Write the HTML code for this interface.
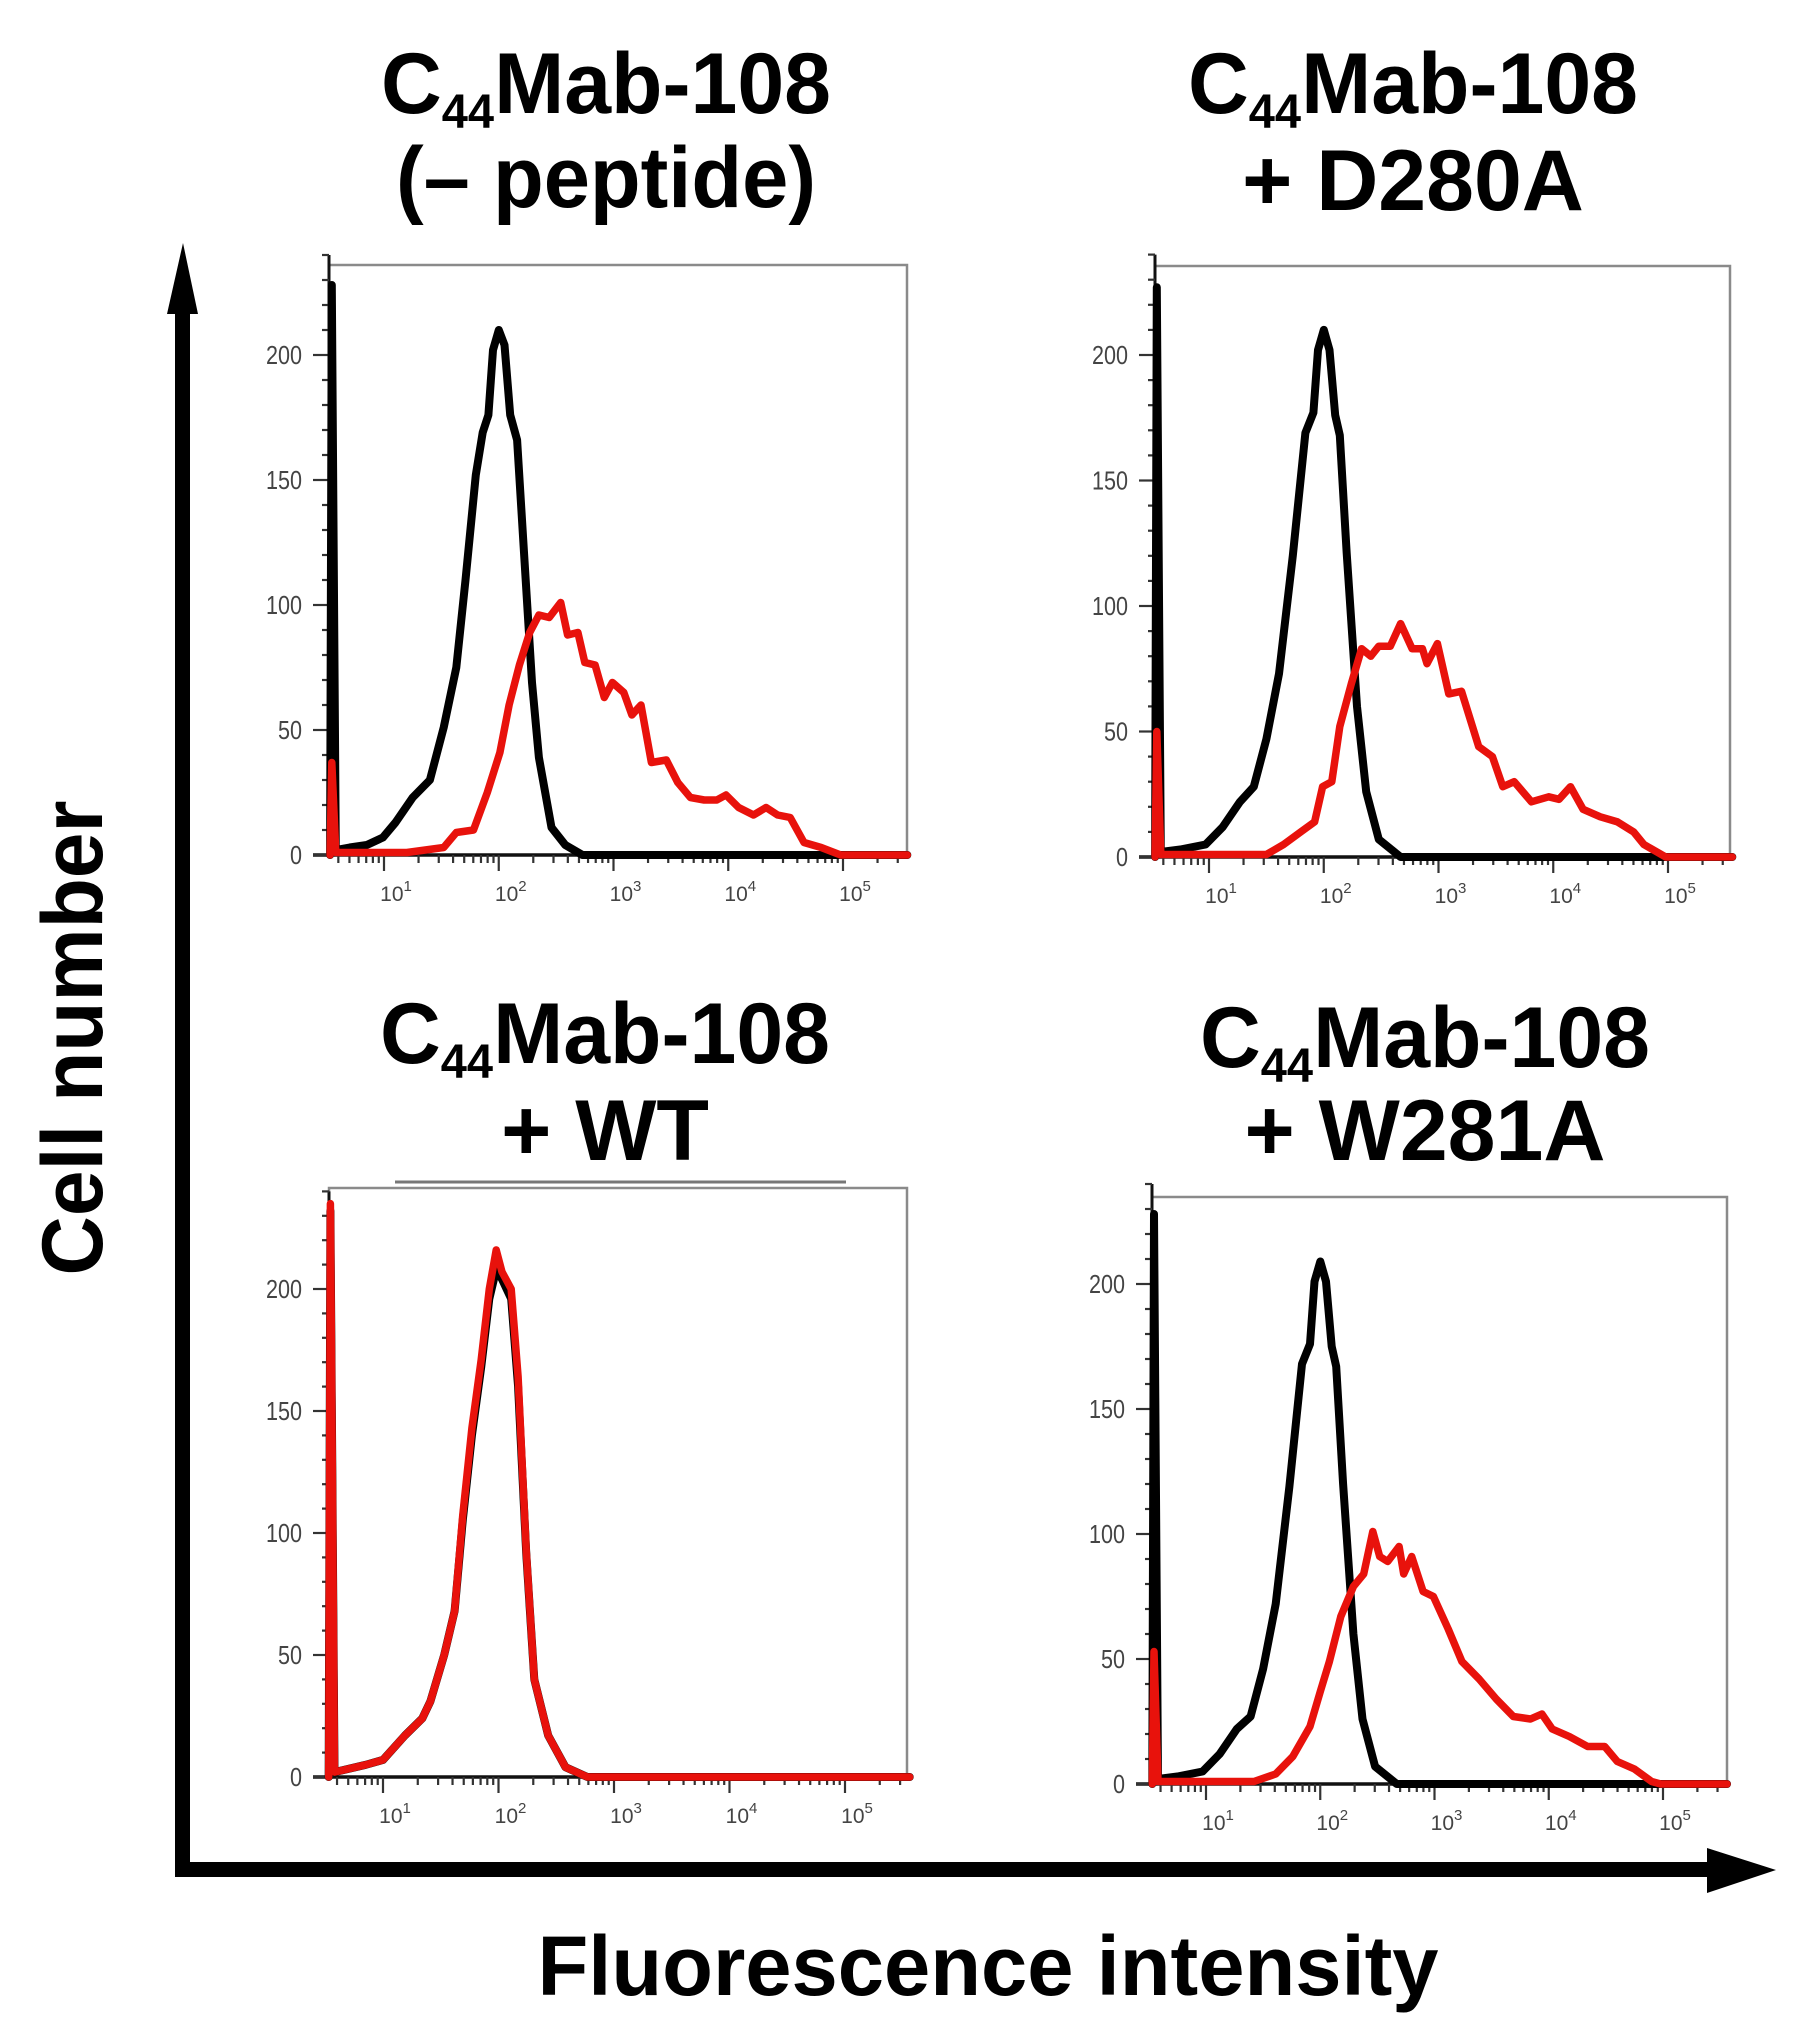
<!DOCTYPE html>
<html><head><meta charset="utf-8">
<style>
html,body{margin:0;padding:0;background:#fff;}
svg{display:block;}
text{font-family:"Liberation Sans",Arial,sans-serif;}
</style></head>
<body>
<svg id="fig" width="1811" height="2043" viewBox="0 0 1811 2043" xmlns="http://www.w3.org/2000/svg">
  <rect x="0" y="0" width="1811" height="2043" fill="#fff"/>
  <g>
    <rect x="175" y="305" width="15" height="1572" fill="#000"/>
    <polygon points="183,243 167,314 198,314" fill="#000"/>
  </g>
  <g>
    <rect x="175" y="1862" width="1540" height="15" fill="#000"/>
    <polygon points="1776,1870 1707,1848 1707,1893" fill="#000"/>
  </g>
  <text transform="translate(102,1038) rotate(-90)" text-anchor="middle" font-size="86" font-weight="bold" textLength="475" lengthAdjust="spacingAndGlyphs">Cell number</text>
  <text x="988" y="1995" text-anchor="middle" font-size="84" font-weight="bold" textLength="901" lengthAdjust="spacingAndGlyphs">Fluorescence intensity</text>

  <g font-weight="bold" text-anchor="middle">
    <text x="606" y="113" font-size="86" textLength="450" lengthAdjust="spacingAndGlyphs">C<tspan font-size="48" dy="15">44</tspan><tspan dy="-15">Mab-108</tspan></text>
    <text x="606" y="207" font-size="86" textLength="420" lengthAdjust="spacingAndGlyphs">(– peptide)</text>
  </g>
  <g font-weight="bold" text-anchor="middle">
    <text x="1413" y="113" font-size="86" textLength="450" lengthAdjust="spacingAndGlyphs">C<tspan font-size="48" dy="15">44</tspan><tspan dy="-15">Mab-108</tspan></text>
    <text x="1413" y="210" font-size="86">+ D280A</text>
  </g>
  <g font-weight="bold" text-anchor="middle">
    <text x="605" y="1063" font-size="86" textLength="450" lengthAdjust="spacingAndGlyphs">C<tspan font-size="48" dy="15">44</tspan><tspan dy="-15">Mab-108</tspan></text>
    <text x="605" y="1160" font-size="86">+ WT</text>
  </g>
  <g font-weight="bold" text-anchor="middle">
    <text x="1425" y="1067" font-size="86" textLength="450" lengthAdjust="spacingAndGlyphs">C<tspan font-size="48" dy="15">44</tspan><tspan dy="-15">Mab-108</tspan></text>
    <text x="1425" y="1160" font-size="86">+ W281A</text>
  </g>
  <line x1="395" y1="1182" x2="846" y2="1182" stroke="#777" stroke-width="3"/>
  <g id="panels"></g>
</svg>
<script>
// Data: x in log10 decades, y in cell counts
const yTickValues = [0, 50, 100, 150, 200];
const xDecades = [1, 2, 3, 4, 5];

const tlBlackX = [0.53,0.545,0.58,0.7,0.85,0.99,1.1,1.25,1.4,1.52,1.63,1.71,1.8,1.86,1.91,1.95,2.0,2.05,2.1,2.16,2.22,2.29,2.35,2.46,2.58,2.73,5.56];
const tlBlackY = [0,228,2,3,4,7,13,23,30,51,75,110,152,169,176,202,210,204,176,166,121,69,39,11,4,0,0];
const tlRedX = [0.53,0.545,0.58,1.2,1.52,1.63,1.78,1.9,2.01,2.09,2.18,2.27,2.35,2.44,2.54,2.6,2.69,2.75,2.84,2.92,2.99,3.09,3.16,3.24,3.33,3.46,3.56,3.67,3.79,3.9,3.98,4.09,4.22,4.33,4.43,4.54,4.66,4.81,4.98,5.56];
const tlRedY = [0,37,1,1,3,9,10,25,41,60,76,89,96,95,101,88,89,77,76,63,69,65,56,60,37,38,29,23,22,22,24,19,16,19,16,15,5,3,0,0];

const trBlackX = [0.53,0.545,0.58,0.75,0.97,1.12,1.27,1.39,1.5,1.61,1.73,1.84,1.91,1.95,2.0,2.05,2.1,2.14,2.2,2.29,2.37,2.48,2.67,5.56];
const trBlackY = [0,227,2,3,5,12,22,28,47,73,120,169,177,202,210,202,176,168,121,60,26,7,0,0];
const trRedX = [0.53,0.545,0.58,1.5,1.65,1.8,1.92,1.99,2.07,2.14,2.24,2.33,2.41,2.48,2.58,2.67,2.77,2.86,2.9,2.99,3.09,3.2,3.35,3.47,3.56,3.66,3.81,3.96,4.05,4.15,4.26,4.41,4.56,4.7,4.79,4.98,5.56];
const trRedY = [0,50,1,1,5,10,14,28,30,52,69,83,80,84,84,93,83,83,77,85,65,66,44,40,28,30,22,24,23,28,19,16,14,10,5,0,0];

const blBlackX = [0.53,0.545,0.58,0.85,1.0,1.19,1.34,1.41,1.53,1.62,1.69,1.77,1.85,1.92,1.98,2.03,2.11,2.17,2.24,2.31,2.43,2.58,2.77,5.56];
const blBlackY = [0,232,2,5,7,17,24,31,50,68,105,140,168,196,208,204,196,160,92,40,17,4,0,0];
const blRedX = [0.53,0.545,0.58,0.85,1.0,1.19,1.34,1.41,1.53,1.62,1.69,1.77,1.85,1.92,1.98,2.03,2.11,2.17,2.24,2.31,2.43,2.58,2.77,5.56];
const blRedY = [0,235,2,5,7,17,24,31,50,68,107,143,171,200,216,207,200,164,93,40,17,4,0,0];

const brBlackX = [0.53,0.545,0.58,0.75,0.97,1.12,1.27,1.39,1.5,1.61,1.73,1.84,1.91,1.95,2.0,2.05,2.1,2.14,2.2,2.29,2.37,2.48,2.67,5.56];
const brBlackY = [0,228,2,3,5,12,22,27,46,72,119,168,176,201,209,201,175,167,120,60,26,7,0,0];
const brRedX = [0.53,0.545,0.58,1.15,1.42,1.61,1.76,1.91,2.0,2.08,2.18,2.29,2.38,2.46,2.52,2.59,2.69,2.73,2.8,2.9,2.99,3.12,3.24,3.39,3.54,3.69,3.84,3.94,4.03,4.18,4.34,4.49,4.6,4.75,4.9,4.98,5.56];
const brRedY = [0,53,1,1,1,4,11,23,37,49,67,79,84,101,91,89,95,84,91,77,75,62,49,42,34,27,26,28,22,19,15,15,9,6,1,0,0];

const panels = [
  {name:'top-left', left:329, top:265, right:907, base:855, y200:355, d1:384, d5:843, bx:tlBlackX, by:tlBlackY, rx:tlRedX, ry:tlRedY},
  {name:'top-right', left:1155, top:266, right:1730, base:857, y200:355, d1:1209, d5:1668, bx:trBlackX, by:trBlackY, rx:trRedX, ry:trRedY},
  {name:'bottom-left', left:329, top:1188, right:907, base:1777, y200:1289, d1:383, d5:845, bx:blBlackX, by:blBlackY, rx:blRedX, ry:blRedY},
  {name:'bottom-right', left:1152, top:1197, right:1727, base:1784, y200:1284, d1:1206, d5:1663, bx:brBlackX, by:brBlackY, rx:brRedX, ry:brRedY}
];

const NS = 'http://www.w3.org/2000/svg';
const root = document.getElementById('panels');
function mk(tag, attrs, parent){
  const e = document.createElementNS(NS, tag);
  for (const k in attrs) e.setAttribute(k, attrs[k]);
  parent.appendChild(e);
  return e;
}

panels.forEach(p => {
  const xs = d => p.d1 + (d - 1) * (p.d5 - p.d1) / 4;
  const ys = c => p.base - c * (p.base - p.y200) / 200;
  const g = mk('g', {}, root);
  
  

  const box = mk('rect', {x:p.left, y:p.top, width:p.right-p.left, height:p.base-p.top, fill:'none', stroke:'#8a8a8a', 'stroke-width':2.5}, g);
  
  

  const yaxis = mk('line', {x1:p.left, y1:ys(240), x2:p.left, y2:p.base+2, stroke:'#111', 'stroke-width':3}, g);
  
  
  const xaxis = mk('line', {x1:p.left-16, y1:p.base, x2:p.right, y2:p.base, stroke:'#111', 'stroke-width':3.5}, g);
  
  

  for (let v = 0; v <= 240; v += 10) {
    const major = v % 50 === 0;
    const t = mk('line', {x1:p.left-(major?16:7), y1:ys(v), x2:p.left, y2:ys(v), stroke:'#333', 'stroke-width':2.2}, g);
    
    
  }
  yTickValues.forEach(v => {
    const t = mk('text', {x:p.left-27, y:ys(v)+9, 'text-anchor':'end', 'font-size':26, fill:'#444', textLength: String(v).length*12, lengthAdjust:'spacingAndGlyphs'}, g);
    t.textContent = String(v);
    
    
  });

  for (let dec = 0; dec <= 5; dec++) {
    for (let k = 1; k <= 9; k++) {
      const d = dec + Math.log10(k);
      const x = xs(d);
      if (x < p.left + 3 || x > p.right) continue;
      const major = k === 1;
      const t = mk('line', {x1:x, y1:p.base, x2:x, y2:p.base+(major?16:8), stroke:'#333', 'stroke-width':2.2}, g);
      
      
    }
  }
  xDecades.forEach(d => {
    const t = mk('text', {x:xs(d)+12, y:p.base+46, 'text-anchor':'middle', 'font-size':21, fill:'#444'}, g);
    
    
    t.appendChild(document.createTextNode('10'));
    const s = mk('tspan', {'font-size':15, dy:-10}, t);
    s.textContent = String(d);
  });

  const ptsB = p.bx.map((d,i) => xs(d).toFixed(1)+','+ys(p.by[i]).toFixed(1)).join(' ');
  const lb = mk('polyline', {points:ptsB, fill:'none', stroke:'#000', 'stroke-width':8, 'stroke-linejoin':'round', 'stroke-linecap':'round'}, g);
  
  
  const ptsR = p.rx.map((d,i) => xs(d).toFixed(1)+','+ys(p.ry[i]).toFixed(1)).join(' ');
  const lr = mk('polyline', {points:ptsR, fill:'none', stroke:'#e8120c', 'stroke-width':7.5, 'stroke-linejoin':'round', 'stroke-linecap':'round'}, g);
  
  
});
</script>
</body></html>
